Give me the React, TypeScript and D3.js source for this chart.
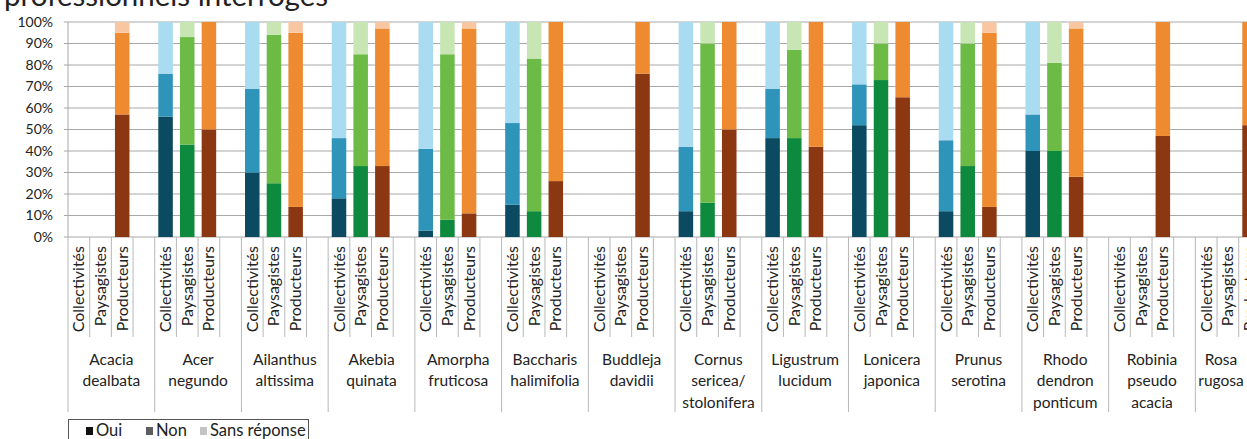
import React from "react";
import * as d3 from "d3";

const species: string[][] = [
  ["Acacia", "dealbata"],
  ["Acer", "negundo"],
  ["Ailanthus", "altissima"],
  ["Akebia", "quinata"],
  ["Amorpha", "fruticosa"],
  ["Baccharis", "halimifolia"],
  ["Buddleja", "davidii"],
  ["Cornus", "sericea/", "stolonifera"],
  ["Ligustrum", "lucidum"],
  ["Lonicera", "japonica"],
  ["Prunus", "serotina"],
  ["Rhodo", "dendron", "ponticum"],
  ["Robinia", "pseudo", "acacia"],
  ["Rosa", "rugosa"],
];

const groups = ["Collectivités", "Paysagistes", "Producteurs"];
const answers = ["Oui", "Non", "Sans réponse"];

type V = number | null;
// Collectivités
const collOui: V[] = [null, 56, 30, 18, 3, 15, null, 12, 46, 52, 12, 40, null, null];
const collNon: V[] = [null, 20, 39, 28, 38, 38, null, 30, 23, 19, 33, 17, null, null];
const collSR: V[] = [null, 24, 31, 54, 59, 47, null, 58, 31, 29, 55, 43, null, null];
// Paysagistes
const paysOui: V[] = [null, 43, 25, 33, 8, 12, null, 16, 46, 73, 33, 40, null, null];
const paysNon: V[] = [null, 50, 69, 52, 77, 71, null, 74, 41, 17, 57, 41, null, null];
const paysSR: V[] = [null, 7, 6, 15, 15, 17, null, 10, 13, 10, 10, 19, null, null];
// Producteurs
const prodOui: V[] = [57, 50, 14, 33, 11, 26, 76, 50, 42, 65, 14, 28, 47, 52];
const prodNon: V[] = [38, 50, 81, 64, 86, 74, 24, 50, 58, 35, 81, 69, 53, 48];
const prodSR: V[] = [5, 0, 5, 3, 3, 0, 0, 0, 0, 0, 5, 3, 0, 0];

const yTicks = [0, 10, 20, 30, 40, 50, 60, 70, 80, 90, 100];

const seriesByGroup: V[][][] = [
  [collOui, collNon, collSR],
  [paysOui, paysNon, paysSR],
  [prodOui, prodNon, prodSR],
];

const colors = [
  ["#0b4a60", "#2f94b9", "#a9dbf1"],
  ["#0e8a3e", "#6cbb46", "#c8e6b4"],
  ["#8a3712", "#ee8a2f", "#f8c7a2"],
];
const legendColors = ["#111111", "#5e5e5e", "#c4c4c4"];

const FONT = "Lato, 'Liberation Sans', sans-serif";

export default function App() {
  const W = 1247;
  const H = 439;
  const left = 68;
  const top = 22;
  const bottom = 237;
  const slotW = 21.68;
  const slotsPerGroup = 4;
  const nSlots = species.length * slotsPerGroup;
  const slotKeys = d3.range(nSlots).map(String);
  const x = d3
    .scaleBand<string>()
    .domain(slotKeys)
    .range([left, left + nSlots * slotW])
    .padding(0);
  const bw = x.bandwidth();
  const barW = bw * 0.67;
  const y = d3.scaleLinear().domain([0, 100]).range([bottom, top]);

  const bars: React.ReactNode[] = [];
  species.forEach((_, si) => {
    groups.forEach((g, gi) => {
      const key = String(si * slotsPerGroup + gi);
      const x0 = (x(key) as number) + (bw - barW) / 2;
      const vals = seriesByGroup[gi].map((s) => s[si]);
      if (vals[0] == null) return;
      const stack = d3.stack<number[]>().keys(["0", "1", "2"]).value((d, k) => d[+k] ?? 0)([
        vals.map((v) => v ?? 0),
      ]);
      stack.forEach((layer, ai) => {
        const [a, b] = layer[0];
        if (b - a <= 0) return;
        bars.push(
          <rect
            key={`${si}-${gi}-${ai}`}
            x={x0}
            y={y(b)}
            width={barW}
            height={y(a) - y(b)}
            fill={colors[gi][ai]}
          />
        );
      });
    });
  });

  const tickLines: React.ReactNode[] = [];
  for (let i = 0; i <= nSlots; i++) {
    const xx = left + i * slotW;
    const isGroup = i % slotsPerGroup === 0;
    tickLines.push(
      <line
        key={"t" + i}
        x1={xx}
        x2={xx}
        y1={bottom}
        y2={isGroup ? 412 : 337}
        stroke="#b8b8b8"
        strokeWidth={1}
      />
    );
  }

  return (
    <div style={{ position: "fixed", left: 0, top: 0, width: W, height: H, overflow: "hidden", background: "#fff" }}>
      <svg width={W} height={H} style={{ display: "block" }} fontFamily={FONT}>
        <rect width={W} height={H} fill="#fff" />
        <text x={4} y={6} fontSize={29.5} fill="#222">
          professionnels interrogés
        </text>
        {yTicks.map((t) => (
          <g key={t}>
            <line x1={left - 4} x2={W + 50} y1={y(t)} y2={y(t)} stroke="#a8a8a8" strokeWidth={1} />
            <text x={53} y={y(t)} dy="0.35em" fontSize={14} textAnchor="end" fill="#222">
              {t}%
            </text>
          </g>
        ))}
        <line x1={left} x2={left} y1={top} y2={bottom} stroke="#a8a8a8" />
        {bars}
        {tickLines}
        {species.map((sp, si) =>
          groups.map((g, gi) => {
            const key = String(si * slotsPerGroup + gi);
            const cx = (x(key) as number) + bw / 2;
            return (
              <text
                key={`l${si}-${gi}`}
                transform={`translate(${cx + 5.5},${246}) rotate(-90)`}
                fontSize={16}
                textAnchor="end"
                fill="#222"
              >
                {g}
              </text>
            );
          })
        )}
        {species.map((sp, si) => {
          const cx = Math.min(left + (si + 0.5) * slotsPerGroup * slotW, W - 26);
          return (
            <text key={"s" + si} fontSize={15.5} textAnchor="middle" fill="#222">
              {sp.map((line, li) => (
                <tspan key={li} x={cx} y={364.5 + li * 21.5}>
                  {line}
                </tspan>
              ))}
            </text>
          );
        })}
        <rect x={68.5} y={419.5} width={240} height={30} fill="#fff" stroke="#555" />
        {answers.map((a, ai) => {
          const xs = [86, 146, 200];
          return (
            <g key={a}>
              <rect x={xs[ai]} y={427} width={7} height={8} fill={legendColors[ai]} />
              <text x={xs[ai] + 10} y={436} fontSize={16.5} fill="#222">
                {a}
              </text>
            </g>
          );
        })}
      </svg>
    </div>
  );
}
